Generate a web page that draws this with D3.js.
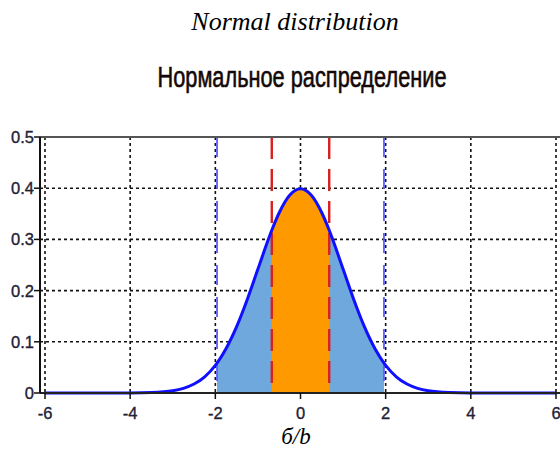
<!DOCTYPE html>
<html><head><meta charset="utf-8">
<script src="https://cdn.jsdelivr.net/npm/d3@7"></script>
<style>body{margin:0;background:#fff}svg{display:block}</style>
</head><body>
<svg id="c" width="560" height="450"></svg>
<script>
// Standard normal density
const curveX = [-6,-5,-4,-3.5,-3,-2.75,-2.5,-2.25,-2,-1.96,-1.75,-1.5,-1.25,-1,-0.75,-0.6745,-0.5,-0.25,0,0.25,0.5,0.6745,0.75,1,1.25,1.5,1.75,1.96,2,2.25,2.5,2.75,3,3.5,4,5,6];
const curveY = [0,0,0.0001,0.0009,0.0044,0.0091,0.0175,0.0317,0.0540,0.0584,0.0863,0.1295,0.1826,0.2420,0.3011,0.3178,0.3521,0.3867,0.3989,0.3867,0.3521,0.3178,0.3011,0.2420,0.1826,0.1295,0.0863,0.0584,0.0540,0.0317,0.0175,0.0091,0.0044,0.0009,0.0001,0,0];
const innerBounds = [-0.6745, 0.6745];   // red dashed, orange fill
const outerBounds = [-1.96, 1.96];       // blue dashed, blue fill
const xTicks = [-6,-4,-2,0,2,4,6];
const yTicks = [0,0.1,0.2,0.3,0.4,0.5];
const yTickLabels = ["0","0.1","0.2","0.3","0.4","0.5"];
const titleTop = "Normal distribution";
const titleMain = "Нормальное распределение";
const xLabel = "б/b";

const svg = d3.select("#c");
const x = d3.scaleLinear().domain([-6,6]).range([45,556]);
const y = d3.scaleLinear().domain([0,0.5]).range([393,137]);
const axisX0 = 40;

const pts = curveX.map((v,i)=>({x:v,y:curveY[i]}));

// grid
const grid = svg.append("g").attr("stroke","#111").attr("stroke-width",1.6).attr("stroke-dasharray","3,3");
grid.selectAll(".gh").data(yTicks.filter(t=>t>0 && t<0.5)).join("line")
  .attr("x1",axisX0).attr("x2",x(6)).attr("y1",d=>y(d)).attr("y2",d=>y(d));
grid.selectAll(".gv").data(xTicks).join("line")
  .attr("x1",d=>x(d)).attr("x2",d=>x(d)).attr("y1",y(0.5)).attr("y2",y(0));

// fills
const area = d3.area().x(d=>x(d.x)).y0(y(0)).y1(d=>y(d.y)).curve(d3.curveMonotoneX);
svg.append("path").datum(pts.filter(d=>d.x>=outerBounds[0]-1e-9 && d.x<=outerBounds[1]+1e-9))
  .attr("d",area).attr("fill","#6fa8dc");
svg.append("path").datum(pts.filter(d=>d.x>=innerBounds[0]-1e-9 && d.x<=innerBounds[1]+1e-9))
  .attr("d",area).attr("fill","#ff9900");

// dashed markers
svg.selectAll(".bl").data(outerBounds).join("line")
  .attr("x1",d=>x(d)).attr("x2",d=>x(d)).attr("y1",y(0.5)).attr("y2",y(0))
  .attr("stroke","#5c5cff").attr("stroke-width",1.8).attr("stroke-dasharray","20,12");
svg.selectAll(".rl").data(innerBounds).join("line")
  .attr("x1",d=>x(d)).attr("x2",d=>x(d)).attr("y1",y(0.5)).attr("y2",y(0))
  .attr("stroke","#d92020").attr("stroke-width",2.4).attr("stroke-dasharray","22,10");

// curve
const line = d3.line().x(d=>x(d.x)).y(d=>y(d.y)).curve(d3.curveMonotoneX);
svg.append("path").datum(pts).attr("d",line).attr("fill","none")
  .attr("stroke","#1010ff").attr("stroke-width",3);

// frame/axes
svg.append("line").attr("x1",axisX0).attr("x2",560).attr("y1",y(0.5)).attr("y2",y(0.5))
  .attr("stroke","#555").attr("stroke-width",2);
svg.append("line").attr("x1",axisX0).attr("x2",560).attr("y1",y(0)).attr("y2",y(0))
  .attr("stroke","#222").attr("stroke-width",2);
svg.append("line").attr("x1",axisX0).attr("x2",axisX0).attr("y1",y(0.5)).attr("y2",y(0))
  .attr("stroke","#111").attr("stroke-width",2);

const font = "'Liberation Sans Narrow','Liberation Sans',Arial,sans-serif";
// y ticks
svg.selectAll(".yt").data(yTicks).join("line")
  .attr("x1",axisX0-6).attr("x2",axisX0).attr("y1",d=>y(d)).attr("y2",d=>y(d))
  .attr("stroke","#111").attr("stroke-width",1.5);
svg.selectAll(".yl").data(yTicks).join("text")
  .attr("x",axisX0-6).attr("y",d=>y(d)).attr("dy","0.36em")
  .attr("text-anchor","end").attr("font-family",font).attr("font-size",16.5).attr("fill","#222236")
  .attr("stroke","#222236").attr("stroke-width",0.35)
  .text((d,i)=>yTickLabels[i]);
// x ticks
svg.selectAll(".xt").data(xTicks).join("line")
  .attr("x1",d=>x(d)).attr("x2",d=>x(d)).attr("y1",y(0)).attr("y2",y(0)+6)
  .attr("stroke","#111").attr("stroke-width",1.5);
svg.selectAll(".xl").data(xTicks).join("text")
  .attr("x",d=>x(d)).attr("y",419)
  .attr("text-anchor","middle").attr("font-family",font).attr("font-size",16.5).attr("fill","#222236")
  .attr("stroke","#222236").attr("stroke-width",0.35)
  .text(d=>d);

// titles
svg.append("text").attr("x",295).attr("y",30).attr("text-anchor","middle")
  .attr("font-family","'Liberation Serif','Times New Roman',serif").attr("font-style","italic")
  .attr("font-size",26).attr("fill","#000").text(titleTop);
svg.append("text").attr("x",302).attr("y",87).attr("text-anchor","middle")
  .attr("font-family","'Liberation Sans',Arial,sans-serif").attr("font-size",29)
  .attr("textLength",289).attr("lengthAdjust","spacingAndGlyphs")
  .attr("fill","#140808").attr("stroke","#140808").attr("stroke-width",0.6).text(titleMain);
svg.append("text").attr("x",296).attr("y",444).attr("text-anchor","middle")
  .attr("font-family","'Liberation Serif','Times New Roman',serif").attr("font-style","italic")
  .attr("font-size",23).attr("fill","#000").text(xLabel);
</script>
</body></html>
